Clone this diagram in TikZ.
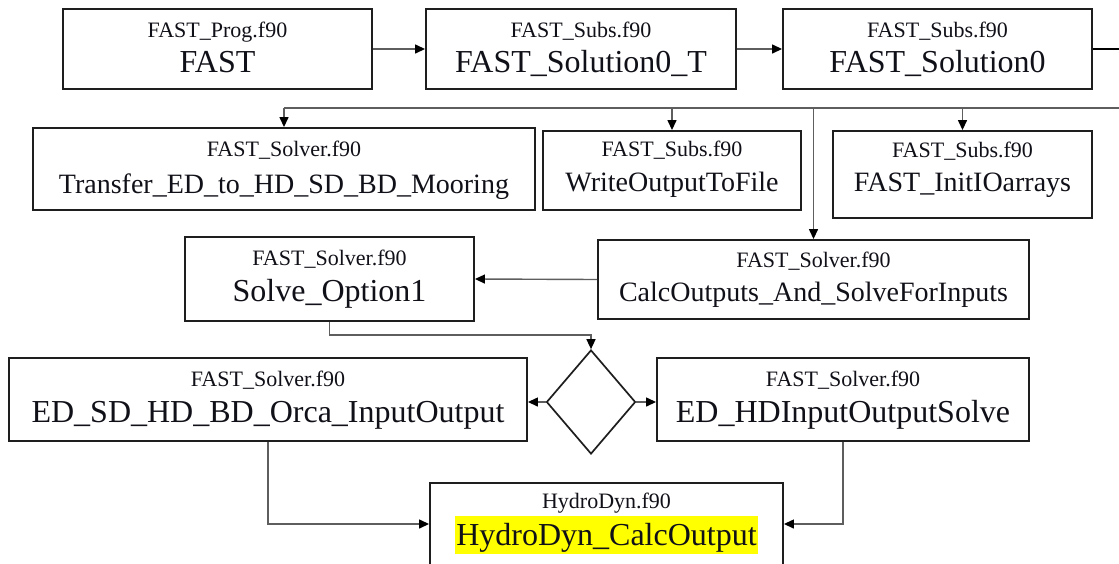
\documentclass[tikz,border=0pt]{standalone}
\usepackage{fontspec}
\setmainfont{Liberation Serif}
\newfontfamily\routinefont{Liberation Serif}
\usetikzlibrary{arrows.meta,shapes.geometric}
\definecolor{boxline}{HTML}{1E1E1E}
\definecolor{wire}{HTML}{5E5E5E}
\definecolor{hilite}{HTML}{FFFF00}
\definecolor{ink}{HTML}{101018}
\begin{document}
\begin{tikzpicture}[x=1pt,y=-1pt,
  box/.style={draw=boxline, line width=1.9pt, rectangle, inner sep=0pt, fill=white},
  fname/.style={anchor=base, inner sep=0pt, text=ink, font=\routinefont\fontsize{22}{24}\selectfont},
  rname/.style={anchor=base, inner sep=0pt, text=ink, font=\routinefont\fontsize{32}{36}\selectfont},
  rnamesm/.style={anchor=base, inner sep=0pt, text=ink, font=\routinefont\fontsize{28}{32}\selectfont},
  wireline/.style={draw=wire, line width=1.4pt},
  conn/.style={wireline, -{Triangle[length=10pt,width=9pt,color=black]}},
  decision/.style={diamond, draw=boxline, line width=1.7pt, inner sep=0pt,
    minimum width=89pt, minimum height=104pt}
]
\clip (0,0) rectangle (1119,563);
\fill[white] (0,0) rectangle (1119,563);

% ---- top row: main program chain
\node[box, minimum width=309pt, minimum height=80pt] (fast)  at (217.5,49) {};
\node[box, minimum width=310pt, minimum height=80pt] (sol0t) at (581,49) {};
\node[box, minimum width=309pt, minimum height=80pt] (sol0)  at (937.5,49) {};

% ---- second row: routines called from the time loop
\node[box, minimum width=502pt, minimum height=82pt] (transfer) at (284,169) {};
\node[box, minimum width=258pt, minimum height=79pt] (write)    at (672,170.5) {};
\node[box, minimum width=259pt, minimum height=87pt] (initio)   at (962.5,174.5) {};

% ---- third row
\node[box, minimum width=289pt, minimum height=84pt] (solve1) at (329.5,279) {};
\node[box, minimum width=431pt, minimum height=79pt] (calc)   at (813.5,279.5) {};

% ---- fourth row: branch on the solve option
\node[box, minimum width=518pt, minimum height=83pt] (edsd) at (268,399.5) {};
\node[decision] (dia) at (591,402) {};
\node[box, minimum width=372pt, minimum height=83pt] (edhd) at (843,399.5) {};

% ---- HydroDyn output routine
\node[box, minimum width=353pt, minimum height=82pt] (hydro) at (606.5,524) {};

% ---- labels: source file above, routine name below
\node[fname] (fastF)  at ([yshift=-29pt]fast.north)  {FAST\_Prog.f90};
\node[rname] (fastR)  at ([yshift=-64pt]fast.north)  {FAST};
\node[fname] (sol0tF) at ([yshift=-29pt]sol0t.north) {FAST\_Subs.f90};
\node[rname] (sol0tR) at ([yshift=-64pt]sol0t.north) {FAST\_Solution0\_T};
\node[fname] (sol0F)  at ([yshift=-29pt]sol0.north)  {FAST\_Subs.f90};
\node[rname] (sol0R)  at ([yshift=-64pt]sol0.north)  {FAST\_Solution0};

\node[fname]   (transferF) at ([yshift=-29pt]transfer.north) {FAST\_Solver.f90};
\node[rnamesm] (transferR) at ([yshift=-66pt]transfer.north) {Transfer\_ED\_to\_HD\_SD\_BD\_Mooring};
\node[fname]   (writeF)    at ([yshift=-26pt]write.north)    {FAST\_Subs.f90};
\node[rnamesm] (writeR)    at ([yshift=-61pt]write.north)    {WriteOutputToFile};
\node[fname]   (initioF)   at ([yshift=-27pt]initio.north)   {FAST\_Subs.f90};
\node[rnamesm] (initioR)   at ([yshift=-61pt]initio.north)   {FAST\_InitIOarrays};

\node[fname]   (solve1F) at ([yshift=-29pt]solve1.north) {FAST\_Solver.f90};
\node[rname]   (solve1R) at ([yshift=-65pt]solve1.north) {Solve\_Option1};
\node[fname]   (calcF)   at ([yshift=-28pt]calc.north)   {FAST\_Solver.f90};
\node[rnamesm] (calcR)   at ([yshift=-62pt]calc.north)   {CalcOutputs\_And\_SolveForInputs};

\node[fname] (edsdF) at ([yshift=-29pt]edsd.north) {FAST\_Solver.f90};
\node[rname] (edsdR) at ([yshift=-65pt]edsd.north) {ED\_SD\_HD\_BD\_Orca\_InputOutput};
\node[fname] (edhdF) at ([yshift=-29pt]edhd.north) {FAST\_Solver.f90};
\node[rname] (edhdR) at ([yshift=-65pt]edhd.north) {ED\_HDInputOutputSolve};

\node[fname] (hydroF) at ([yshift=-26pt]hydro.north) {HydroDyn.f90};
\node[rname, fill=hilite, text height=29pt, text depth=9pt, inner xsep=1pt]
  (hydroR) at ([yshift=-63pt]hydro.north) {HydroDyn\_CalcOutput};

% ---- connectors
\draw[conn] (fast.east) -- (sol0t.west);
\draw[conn] (sol0t.east) -- (sol0.west);
\coordinate (outR) at (1119,49);
\draw[draw=black, line width=1.1pt] (sol0.east) -- (outR);

% loop bus feeding the second row
\coordinate (busR) at (1119,108);
\draw[wireline, line width=1.8pt] (busR) -- (busR -| transfer.north);
\draw[conn] (busR -| transfer.north) -- (transfer.north);
\draw[conn] (busR -| write.north) -- (write.north);
\draw[conn] (busR -| initio.north) -- (initio.north);
\draw[conn] (busR -| calc.north) -- (calc.north);

\draw[conn] (calc.west) -- (solve1.east);
\coordinate (jn) at (591,335);
\draw[conn] (solve1.south) |- (jn) -- (dia.north);
\draw[conn] (dia.west) -- (dia.west -| edsd.east);
\draw[conn] (dia.east) -- (dia.east -| edhd.west);
\draw[conn] (edsd.south) |- (hydro.west);
\draw[conn] (edhd.south) |- (hydro.east);
\end{tikzpicture}
\end{document}
